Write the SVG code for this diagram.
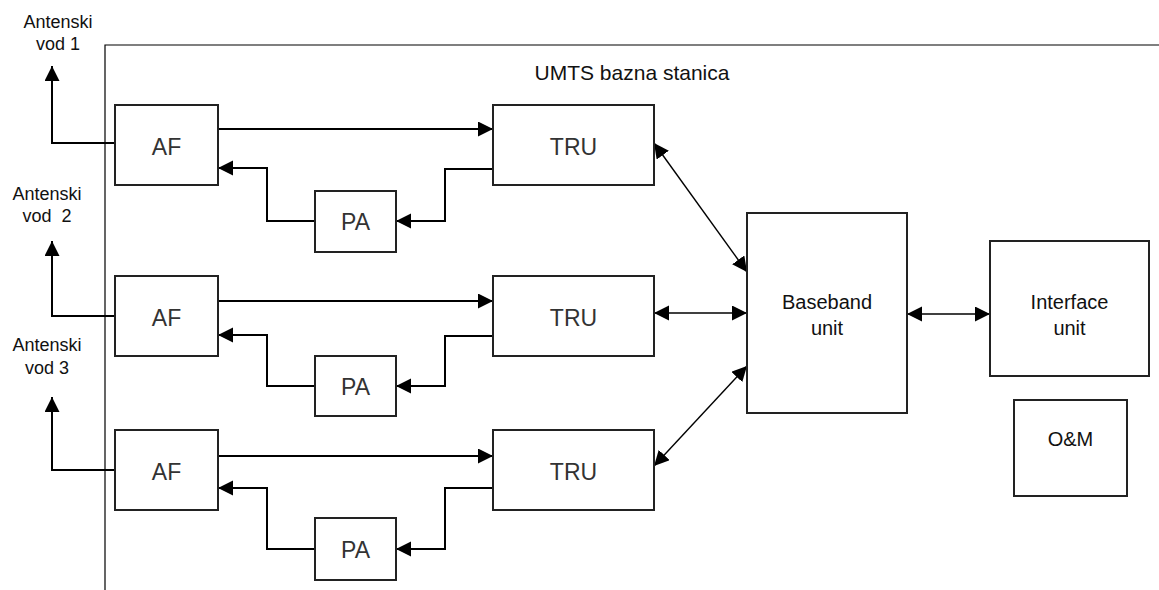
<svg xmlns="http://www.w3.org/2000/svg" width="1159" height="590" viewBox="0 0 1159 590">
<style>
.box{fill:#fff;stroke:#222;stroke-width:2}
.lbl{font-family:"Liberation Sans",Arial,sans-serif;font-size:18px;fill:#111;text-anchor:middle}
.big{font-family:"Liberation Sans",Arial,sans-serif;font-size:20px;fill:#111;text-anchor:middle}
.ttl{font-family:"Liberation Sans",Arial,sans-serif;font-size:21px;fill:#111;text-anchor:middle}
.blk{font-family:"Liberation Sans",Arial,sans-serif;font-size:23px;fill:#333;text-anchor:middle}
.c{fill:none;stroke:#000;stroke-width:2}
.d{fill:none;stroke:#000;stroke-width:1.4}
</style>
<defs>
<marker id="ah" markerUnits="userSpaceOnUse" markerWidth="16" markerHeight="16" refX="15" refY="7.5" orient="auto-start-reverse" viewBox="0 0 16 16">
<path d="M0,0 L15,7.5 L0,15 z" fill="#000"/>
</marker>
</defs>
<rect width="1159" height="590" fill="#fff"/>
<g id="frame">
<path d="M105,590 V45 H1159" fill="none" stroke="#000" stroke-width="1.2"/>
<text class="ttl" x="632" y="80">UMTS bazna stanica</text>
</g>
<g id="labels">
<text class="lbl" x="58" y="28">Antenski</text>
<text class="lbl" x="58" y="50">vod 1</text>
<text class="lbl" x="47" y="200">Antenski</text>
<text class="lbl" x="47" y="222" xml:space="preserve">vod  2</text>
<text class="lbl" x="47" y="351">Antenski</text>
<text class="lbl" x="47" y="374">vod 3</text>
</g>
<g id="connectors">
<path class="c" d="M115,143 H52 V66" marker-end="url(#ah)"/>
<path class="c" d="M218,129 H493" marker-end="url(#ah)"/>
<path class="c" d="M493,169 H445 V221 H396" marker-end="url(#ah)"/>
<path class="c" d="M315,221 H267 V168 H218" marker-end="url(#ah)"/>
<path class="c" d="M115,316 H52 V241" marker-end="url(#ah)"/>
<path class="c" d="M218,301 H493" marker-end="url(#ah)"/>
<path class="c" d="M493,336 H445 V386 H396" marker-end="url(#ah)"/>
<path class="c" d="M315,386 H267 V335 H218" marker-end="url(#ah)"/>
<path class="c" d="M115,470 H52 V397" marker-end="url(#ah)"/>
<path class="c" d="M218,456 H493" marker-end="url(#ah)"/>
<path class="c" d="M493,488 H445 V549 H396" marker-end="url(#ah)"/>
<path class="c" d="M315,549 H267 V488 H218" marker-end="url(#ah)"/>
<path class="d" d="M654,143 L747,272" marker-start="url(#ah)" marker-end="url(#ah)"/>
<path class="d" d="M654,313 L747,313" marker-start="url(#ah)" marker-end="url(#ah)"/>
<path class="d" d="M654,466 L747,366" marker-start="url(#ah)" marker-end="url(#ah)"/>
<path class="d" d="M907,314 L990,314" marker-start="url(#ah)" marker-end="url(#ah)"/>
</g>
<g id="af1"><rect class="box" x="115" y="105" width="103" height="80"/><text class="blk" x="166.5" y="155">AF</text></g>
<g id="af2"><rect class="box" x="115" y="276" width="103" height="80"/><text class="blk" x="166.5" y="326">AF</text></g>
<g id="af3"><rect class="box" x="115" y="430" width="103" height="80"/><text class="blk" x="166.5" y="480">AF</text></g>
<g id="tru1"><rect class="box" x="493" y="105" width="161" height="80"/><text class="blk" x="573.5" y="155">TRU</text></g>
<g id="tru2"><rect class="box" x="493" y="276" width="161" height="80"/><text class="blk" x="573.5" y="326">TRU</text></g>
<g id="tru3"><rect class="box" x="493" y="430" width="161" height="80"/><text class="blk" x="573.5" y="480">TRU</text></g>
<g id="pa1"><rect class="box" x="315" y="191" width="81" height="61"/><text class="blk" x="355.5" y="230">PA</text></g>
<g id="pa2"><rect class="box" x="315" y="356" width="81" height="60"/><text class="blk" x="355.5" y="395">PA</text></g>
<g id="pa3"><rect class="box" x="315" y="518" width="81" height="62"/><text class="blk" x="355.5" y="558">PA</text></g>
<g id="baseband"><rect class="box" x="747" y="213" width="160" height="200"/><text class="big" x="827" y="309">Baseband</text><text class="big" x="827" y="335">unit</text></g>
<g id="interface"><rect class="box" x="990" y="241" width="159" height="135"/><text class="big" x="1069.5" y="309">Interface</text><text class="big" x="1069.5" y="335">unit</text></g>
<g id="om"><rect class="box" x="1014" y="400" width="113" height="96"/><text class="big" x="1070.5" y="446">O&amp;M</text></g>
</svg>
